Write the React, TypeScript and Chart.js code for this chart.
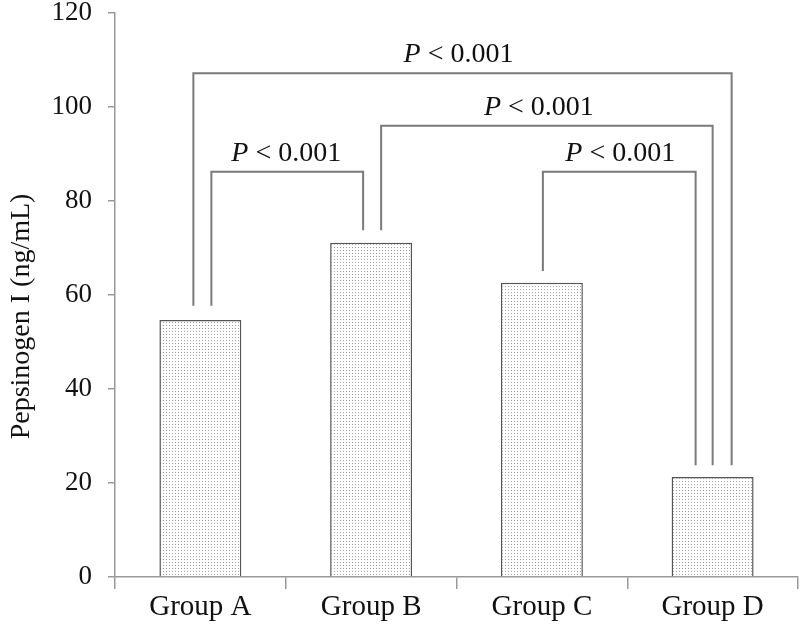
import React, { useEffect, useRef } from "react";
import { Chart, registerables } from "chart.js";

Chart.register(...registerables);

const categories = ["Group A", "Group B", "Group C", "Group D"];
const values = [54.7, 71.1, 62.6, 21.3];
const yMin = 0;
const yMax = 120;
const yStep = 20;
const yTitle = "Pepsinogen I (ng/mL)";

// significance brackets
const bracketStart = [0, 0, 1, 2];
const bracketEnd = [1, 3, 3, 3];
const bracketTop = [86.2, 107.2, 96.0, 86.2];
const bracketStartFoot = [57.7, 57.7, 73.8, 65.1];
const bracketEndFoot = [73.8, 23.8, 23.8, 23.8];
const bracketP = ["P", "P", "P", "P"];
const bracketRest = [" < 0.001", " < 0.001", " < 0.001", " < 0.001"];

// leg horizontal offsets (px) from category centres, and label shifts
const startOffsets = [11, -7, 10, 1];
const endOffsets = [-8, 19, 0, -17];
const labelShift = [-1, -4, -8, 1];

const FONT = "'Liberation Serif', 'Times New Roman', serif";
const FS_X = 29;
const FS_Y = 27;
const FS_P = 28;
const FS_T = 28;

function makePattern(): CanvasPattern | string {
  const c = document.createElement("canvas");
  c.width = 3;
  c.height = 3;
  const g = c.getContext("2d");
  if (!g) return "#e6e6e6";
  g.fillStyle = "#ffffff";
  g.fillRect(0, 0, 3, 3);
  g.fillStyle = "#a0a0a0";
  g.fillRect(1, 1, 1, 1);
  const p = g.createPattern(c, "repeat");
  return p || "#e6e6e6";
}

const bracketPlugin = {
  id: "brackets",
  afterDatasetsDraw(chart: any) {
    const { ctx } = chart;
    const x = chart.scales.x;
    const y = chart.scales.y;
    ctx.save();
    ctx.strokeStyle = "#7a7a7a";
    ctx.lineWidth = 2;
    for (let i = 0; i < bracketStart.length; i++) {
      const x1 = x.getPixelForValue(bracketStart[i]) + startOffsets[i];
      const x2 = x.getPixelForValue(bracketEnd[i]) + endOffsets[i];
      const yt = y.getPixelForValue(bracketTop[i]);
      const y1 = y.getPixelForValue(bracketStartFoot[i]);
      const y2 = y.getPixelForValue(bracketEndFoot[i]);
      ctx.beginPath();
      ctx.moveTo(x1, y1);
      ctx.lineTo(x1, yt);
      ctx.lineTo(x2, yt);
      ctx.lineTo(x2, y2);
      ctx.stroke();

      ctx.fillStyle = "#111111";
      ctx.textBaseline = "alphabetic";
      ctx.textAlign = "left";
      ctx.font = `italic ${FS_P}px ${FONT}`;
      const wP = ctx.measureText(bracketP[i]).width;
      ctx.font = `${FS_P}px ${FONT}`;
      const wR = ctx.measureText(bracketRest[i]).width;
      const cx = (x1 + x2) / 2 + labelShift[i];
      const sx = cx - (wP + wR) / 2;
      const by = yt - 11;
      ctx.font = `italic ${FS_P}px ${FONT}`;
      ctx.fillText(bracketP[i], sx, by);
      ctx.font = `${FS_P}px ${FONT}`;
      ctx.fillText(bracketRest[i], sx + wP, by);
    }
    ctx.restore();
  },
  afterDraw(chart: any) {
    const { ctx } = chart;
    ctx.save();
    ctx.translate(22, chart.height / 2);
    ctx.rotate(-Math.PI / 2);
    ctx.fillStyle = "#111111";
    ctx.font = `${FS_T}px ${FONT}`;
    ctx.textAlign = "center";
    ctx.textBaseline = "middle";
    ctx.fillText(yTitle, 0, 0);
    ctx.restore();
  },
};

export default function App() {
  const ref = useRef<HTMLCanvasElement | null>(null);
  useEffect(() => {
    if (!ref.current) return;
    const chart = new Chart(ref.current, {
      type: "bar",
      data: {
        labels: categories,
        datasets: [
          {
            data: values,
            backgroundColor: makePattern() as any,
            borderColor: "#555555",
            borderWidth: 1.5,
            barPercentage: 0.48,
            categoryPercentage: 1,
          },
        ],
      },
      options: {
        animation: false,
        responsive: false,
        maintainAspectRatio: false,
        layout: { padding: { top: 13, right: 2, left: 0, bottom: 0 } },
        plugins: {
          legend: { display: false },
          tooltip: { enabled: false },
          title: { display: false },
        },
        scales: {
          x: {
            afterFit: (s: any) => {
              s.height = 56;
              s.paddingLeft = 0;
              s.paddingRight = 0;
            },
            grid: {
              offset: true,
              drawOnChartArea: false,
              drawTicks: true,
              tickLength: 12,
              color: "#999999",
              lineWidth: 1.5,
            },
            border: { display: true, color: "#999999", width: 1.5 },
            ticks: {
              color: "#111111",
              font: { family: FONT, size: FS_X },
              padding: 1,
            },
          },
          y: {
            min: yMin,
            max: yMax,
            afterFit: (s: any) => {
              s.width = 115;
              s.paddingTop = 0;
              s.paddingBottom = 0;
            },
            grid: {
              drawOnChartArea: false,
              drawTicks: true,
              tickLength: 7,
              color: "#999999",
              lineWidth: 1.5,
            },
            border: { display: true, color: "#999999", width: 1.5 },
            ticks: {
              stepSize: yStep,
              color: "#111111",
              font: { family: FONT, size: FS_Y },
              padding: 16,
            },
          },
        },
      },
      plugins: [bracketPlugin],
    });
    return () => chart.destroy();
  }, []);
  return (
    <div style={{ position: "fixed", left: 0, top: 0, width: 800, height: 633, background: "#fff" }}>
      <canvas ref={ref} width={800} height={633} style={{ display: "block" }} />
    </div>
  );
}
